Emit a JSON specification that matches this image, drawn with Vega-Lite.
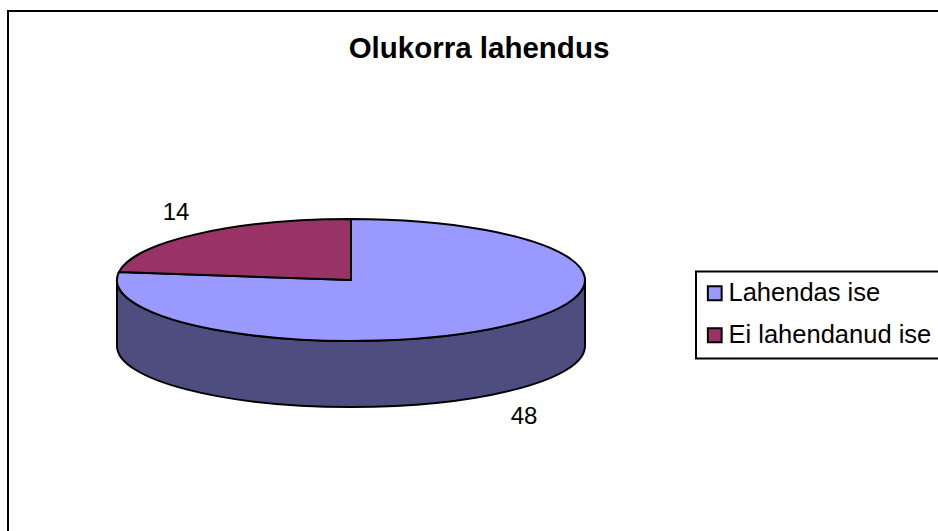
{"$schema":"https://vega.github.io/schema/vega-lite/v6.json","width":950,"height":540,"padding":{"left":8,"top":11,"right":0,"bottom":0},"autosize":"none","background":"white","config":{"legend":{"strokeWidth":2}},"view":{"stroke":"#000000","strokeWidth":2,"fill":"#ffffff"},"title":{"text":"Olukorra lahendus","font":"Liberation Sans","fontSize":29.5,"fontWeight":"bold","color":"#000000","anchor":"middle","dx":-4,"offset":-53},"data":{"values":[{"category":"Lahendas ise","value":48},{"category":"Ei lahendanud ise","value":14}]},"layer":[{"mark":{"type":"point","shape":"M-366 -1 L-366 65 A234 61 0 0 0 102 65 L102 -1 A234 61 0 0 1 -366 -1 Z","size":4,"filled":true,"fill":"#4d4d80","stroke":"#000000","strokeWidth":2,"opacity":1},"transform":[{"filter":"datum.value == 48"}],"encoding":{}},{"transform":[{"filter":"datum.value == 48"}],"mark":{"type":"point","shape":"M-132 -1 L-132 -62 A234 61 0 1 1 -364 -9 Z","size":4,"filled":true,"stroke":"#000000","strokeWidth":2,"opacity":1},"encoding":{"fill":{"field":"category","type":"nominal","sort":["Lahendas ise","Ei lahendanud ise"],"scale":{"domain":["Lahendas ise","Ei lahendanud ise"],"range":["#9999ff","#993366"]},"legend":{"title":null,"orient":"none","legendX":688,"legendY":260.5,"symbolType":"square","symbolSize":190,"symbolOffset":-3,"symbolStrokeColor":"#000000","symbolStrokeWidth":2,"symbolOpacity":1,"labelFont":"Liberation Sans","labelFontSize":25.5,"labelLimit":400,"labelColor":"#000000","strokeColor":"#000000","fillColor":"#ffffff","padding":9,"rowPadding":15,"labelOffset":1}}}},{"transform":[{"filter":"datum.value == 14"}],"mark":{"type":"point","shape":"M-132 -1 L-364 -9 A234 61 0 0 1 -132 -62 Z","size":4,"filled":true,"stroke":"#000000","strokeWidth":2,"opacity":1},"encoding":{"fill":{"field":"category","type":"nominal","scale":{"domain":["Lahendas ise","Ei lahendanud ise"],"range":["#9999ff","#993366"]}}}},{"transform":[{"filter":"datum.value == 14"}],"mark":{"type":"text","font":"Liberation Sans","fontSize":24,"color":"#000000","dx":-307,"dy":-68},"encoding":{"text":{"field":"value","type":"quantitative"}}},{"transform":[{"filter":"datum.value == 48"}],"mark":{"type":"text","font":"Liberation Sans","fontSize":24,"color":"#000000","dx":41,"dy":136},"encoding":{"text":{"field":"value","type":"quantitative"}}}]}
